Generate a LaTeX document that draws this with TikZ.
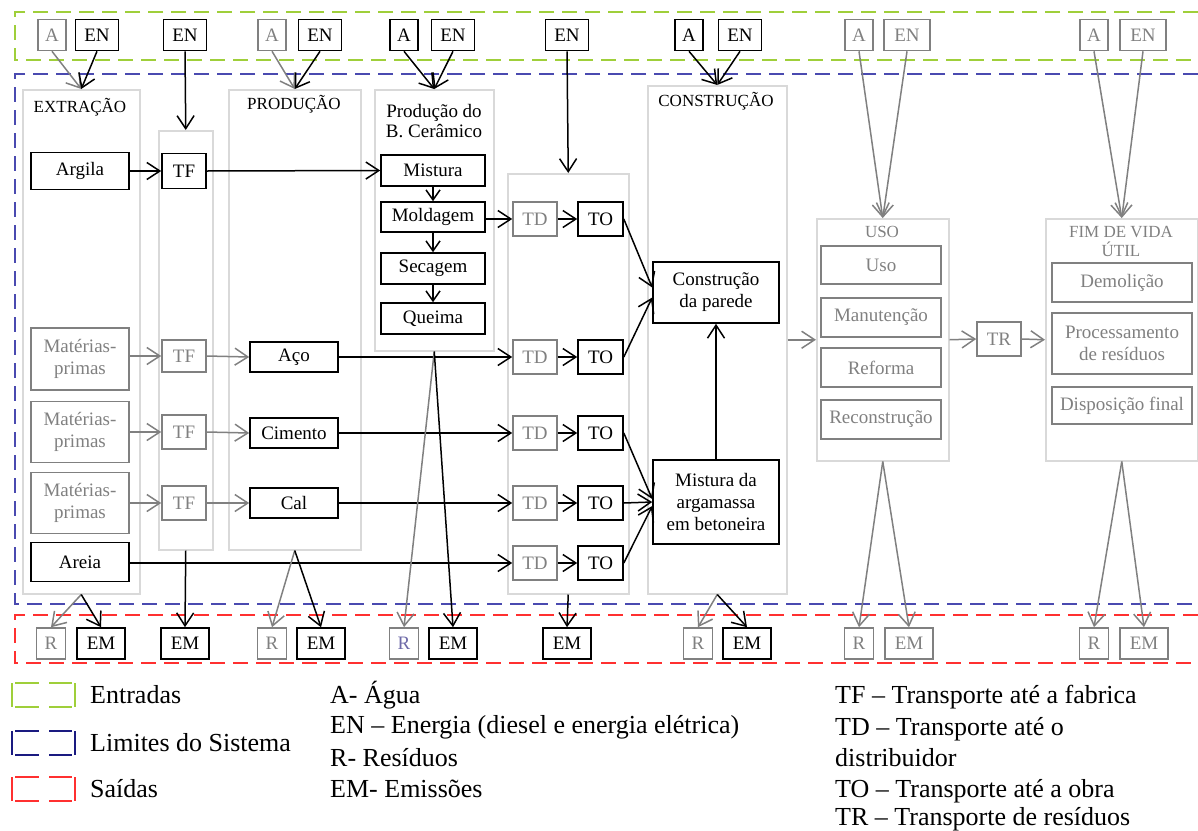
\documentclass[tikz,border=0pt]{standalone}
\usepackage{fontspec}
\setmainfont{LiberationSerif}[Extension=.ttf, UprightFont=*-Regular, BoldFont=*-Bold, ItalicFont=*-Italic, BoldItalicFont=*-BoldItalic]
\usetikzlibrary{arrows.meta,calc}
\definecolor{inGreen}{HTML}{9FCF3A}
\definecolor{sysBlue}{HTML}{4A4AB0}
\definecolor{legBlue}{HTML}{1A1A80}
\definecolor{outRed}{HTML}{FF3030}
\definecolor{boxGray}{HTML}{808080}
\definecolor{stageGray}{HTML}{D9D9D9}
\definecolor{resPurple}{HTML}{6E6AA8}

\begin{document}
\begin{tikzpicture}[x=1pt,y=-1pt,
  txt/.style={font=\fontsize{19}{22}\selectfont, inner sep=0pt, align=center},
  blk/.style={txt, draw=black, line width=1.6pt, text=black},
  gry/.style={txt, draw=boxGray, line width=1.6pt, text=boxGray},
  stage/.style={draw=stageGray, line width=1.5pt, inner sep=0pt, anchor=north west},
  title/.style={font=\fontsize{17}{19.5}\selectfont, align=center, inner sep=0pt},
  flow/.style={line width=1.5pt, -{Straight Barb[length=13pt,width=17pt]}},
  fb/.style={flow, draw=black},
  fg/.style={flow, draw=boxGray},
  fbs/.style={line width=1.5pt, draw=black, -{Straight Barb[length=10pt,width=14pt]}},
  frame/.style={line width=2.4pt, dash pattern=on 15pt off 8pt},
  lg/.style={font=\fontsize{26}{31}\selectfont, inner sep=0pt, anchor=base west},
  abox/.style={minimum width=28, minimum height=31},
  enbox/.style={minimum width=43, minimum height=31},
  rbox/.style={minimum width=29, minimum height=31},
  embox/.style={minimum width=48, minimum height=31},
  tbox/.style={minimum width=44, minimum height=34},
  legicon/.pic={
    \draw (0,0) -- (0,24) (63,0) -- (63,24)
          (3,0) -- (27,0) (37,0) -- (60,0)
          (3,24) -- (27,24) (37,24) -- (60,24);
  }
]
\useasboundingbox (0,0) rectangle (1198,830);

% dashed frames: inputs, system boundary, outputs
\draw[frame, inGreen] (1198,12) -- (15,12) -- (15,60) -- (1198,60);
\draw[frame, sysBlue, line width=2pt] (1198,74) -- (15,74) -- (15,604) -- (1198,604);
\draw[frame, outRed] (1198,615) -- (15,615) -- (15,663) -- (1198,663);

% life-cycle stages
\node[stage, minimum width=117, minimum height=504] (extr) at (22,89) {};
\node[stage, minimum width=54, minimum height=419] (tfcol) at (158,130) {};
\node[stage, minimum width=132, minimum height=460] (prod) at (228,89) {};
\node[stage, minimum width=119, minimum height=261] (bcer) at (374,89) {};
\node[stage, minimum width=121, minimum height=420] (tdcol) at (507,173) {};
\node[stage, minimum width=139, minimum height=508] (constr) at (647,85) {};
\node[stage, minimum width=132, minimum height=242] (uso) at (816,218) {};
\node[stage, minimum width=152, minimum height=242] (fim) at (1045,218) {};

\node[title] (tExtr) at (80,107) {EXTRAÇÃO};
\node[title] (tProd) at (294,104) {PRODUÇÃO};
\node[txt, font=\fontsize{19}{20}\selectfont] (tBcer) at (434,121) {Produção do\\B. Cerâmico};
\node[title] (tConstr) at (716,101) {CONSTRUÇÃO};
\node[title, text=boxGray] (tUso) at (882,232) {USO};
\node[title, text=boxGray, font=\fontsize{17}{19}\selectfont] (tFim) at (1121,241.5) {FIM DE VIDA\\ÚTIL};

% inputs
\node[gry, abox] (a1) at (52,35) {A};
\node[blk, enbox] (en1) at (97,35) {EN};
\node[blk, enbox] (en2) at (185,35) {EN};
\node[gry, abox] (a3) at (272,35) {A};
\node[blk, enbox] (en3) at (320,35) {EN};
\node[blk, abox] (a4) at (404,35) {A};
\node[blk, enbox] (en4) at (453,35) {EN};
\node[blk, enbox] (en5) at (567,35) {EN};
\node[blk, abox] (a6) at (689,35) {A};
\node[blk, enbox] (en6) at (740,35) {EN};
\node[gry, abox] (a7) at (859,35) {A};
\node[gry, enbox, minimum width=46] (en7) at (907,35) {EN};
\node[gry, abox] (a8) at (1094,35) {A};
\node[gry, enbox, minimum width=46] (en8) at (1143,35) {EN};

% extraction
\node[blk, minimum width=98, minimum height=37] (argila) at (80,171) {Argila};
\node[gry, minimum width=98, minimum height=62] (mp1) at (80,359) {Matérias-\\primas};
\node[gry, minimum width=98, minimum height=61] (mp2) at (80,432) {Matérias-\\primas};
\node[gry, minimum width=98, minimum height=61] (mp3) at (80,503) {Matérias-\\primas};
\node[blk, minimum width=98, minimum height=39] (areia) at (80,562) {Areia};

% transport to factory
\node[blk, tbox, minimum height=35] (tf1) at (184,171) {TF};
\node[gry, tbox, minimum height=32] (tf2) at (184,356) {TF};
\node[gry, tbox] (tf3) at (184,432) {TF};
\node[gry, tbox] (tf4) at (184,503) {TF};

% production
\node[blk, minimum width=88, minimum height=30] (aco) at (294,357) {Aço};
\node[blk, minimum width=88, minimum height=30] (cimento) at (294,433) {Cimento};
\node[blk, minimum width=88, minimum height=30] (cal) at (294,503) {Cal};

% ceramic block production
\node[blk, minimum width=104, minimum height=31] (mistura) at (433,170.5) {Mistura};
\node[blk, minimum width=104, minimum height=30] (moldagem) at (433,217) {Moldagem};
\node[blk, minimum width=104, minimum height=31] (secagem) at (433,268.5) {Secagem};
\node[blk, minimum width=104, minimum height=31] (queima) at (433,318.5) {Queima};

% distribution and transport to site
\foreach \i/\y in {1/219, 2/357, 3/433, 4/503, 5/563} {
  \node[gry, tbox] (td\i) at (535,\y) {TD};
  \node[blk, tbox, minimum width=45] (to\i) at (600.5,\y) {TO};
}

% construction
\node[blk, minimum width=126, minimum height=61] (parede) at (716,292.5) {Construção\\da parede};
\node[blk, minimum width=126, minimum height=84] (argamassa) at (716,502) {Mistura da\\argamassa\\em betoneira};

% use
\node[gry, minimum width=120, minimum height=38] (u1) at (881,265) {Uso};
\node[gry, minimum width=120, minimum height=39] (u2) at (881,317.5) {Manutenção};
\node[gry, minimum width=120, minimum height=39] (u3) at (881,367.5) {Reforma};
\node[gry, minimum width=120, minimum height=39] (u4) at (881,419.5) {Reconstrução};
\node[gry, tbox] (tr) at (999,339) {TR};

% end of life
\node[gry, minimum width=140, minimum height=39] (f1) at (1122,282.5) {Demolição};
\node[gry, minimum width=140, minimum height=61] (f2) at (1122,343.5) {Processamento\\de resíduos};
\node[gry, minimum width=140, minimum height=37] (f3) at (1122,405.5) {Disposição final};

% outputs
\node[gry, rbox] (r1) at (51,643.5) {R};
\node[blk, embox] (em1) at (101,643.5) {EM};
\node[blk, embox] (em2) at (185,643.5) {EM};
\node[gry, rbox] (r3) at (272,643.5) {R};
\node[blk, embox] (em3) at (321,643.5) {EM};
\node[gry, rbox, text=resPurple] (r4) at (404,643.5) {R};
\node[blk, embox] (em4) at (453,643.5) {EM};
\node[blk, embox] (em5) at (567,643.5) {EM};
\node[gry, rbox] (r6) at (698,643.5) {R};
\node[blk, embox] (em6) at (747,643.5) {EM};
\node[gry, rbox] (r7) at (859,643.5) {R};
\node[gry, embox] (em7) at (909,643.5) {EM};
\node[gry, rbox] (r8) at (1094,643.5) {R};
\node[gry, embox] (em8) at (1144,643.5) {EM};

% input flows
\draw[fg] (a1.south) -- (extr.north);
\draw[fb] (en1.south) -- (extr.north);
\draw[fb] (en2.south) -- (tfcol.north);
\draw[fg] (a3.south) -- (prod.north);
\draw[fb] (en3.south) -- (prod.north);
\draw[fb] (a4.south) -- (bcer.north);
\draw[fb] (en4.south) -- (bcer.north);
\draw[fb] (en5.south) -- (tdcol.north);
\draw[fb] (a6.south) -- (constr.north);
\draw[fb] (en6.south) -- (constr.north);
\draw[fg] (a7.south) -- (uso.north);
\draw[fg] (en7.south) -- (uso.north);
\draw[fg] (a8.south) -- (fim.north);
\draw[fg] (en8.south) -- (fim.north);

% material flows
\draw[fb] (argila.east) -- (tf1.west);
\draw[fb] (tf1.east) -- (mistura.west);
\draw[fbs] (mistura.south) -- (moldagem.north);
\draw[fbs] (moldagem.south) -- (secagem.north);
\draw[fbs] (secagem.south) -- (queima.north);
\draw[fb] (moldagem.east |- td1.west) -- (td1.west);
\draw[fg] (mp1.east |- tf2.west) -- (tf2.west);
\draw[fg] (tf2.east) -- (aco.west);
\draw[fg] (mp2.east) -- (tf3.west);
\draw[fg] (tf3.east) -- (cimento.west);
\draw[fg] (mp3.east) -- (tf4.west);
\draw[fg] (tf4.east) -- (cal.west);
\draw[fb] (aco.east) -- (td2.west);
\draw[fb] (cimento.east) -- (td3.west);
\draw[fb] (cal.east) -- (td4.west);
\draw[fb] (areia.east |- td5.west) -- (td5.west);
\foreach \i in {1,...,5} { \draw[fb] (td\i.east) -- (to\i.west); }
\draw[fb] (to1.east) -- ($(parede.west)+(0,-5)$);
\draw[fb] (to2.east) -- ($(parede.west)+(0,5)$);
\draw[fb] (to3.east) -- ($(argamassa.west)+(0,-3)$);
\draw[fb] (to4.east) -- (argamassa.west);
\draw[fb] (to5.east) -- ($(argamassa.west)+(0,4)$);
\draw[fb] (argamassa.north) -- (parede.south);
\draw[fg] (constr.east) -- (uso.west);
\draw[fg] (uso.east) -- (tr.west);
\draw[fg] (tr.east) -- (fim.west);

% output flows
\draw[fg] (extr.south) -- (r1.north);
\draw[fb] (extr.south) -- (em1.north);
\draw[fb] (tfcol.south) -- (em2.north);
\draw[fg] (prod.south) -- (r3.north);
\draw[fb] (prod.south) -- (em3.north);
\draw[fg] (bcer.south) -- (r4.north);
\draw[fb] (bcer.south) -- (em4.north);
\draw[fb] (tdcol.south) -- (em5.north);
\draw[fg] (constr.south) -- (r6.north);
\draw[fb] (constr.south) -- (em6.north);
\draw[fg] (uso.south) -- (r7.north);
\draw[fg] (uso.south) -- (em7.north);
\draw[fg] (fim.south) -- (r8.north);
\draw[fg] (fim.south) -- (em8.north);

% legend
\pic[color=inGreen, line width=2.4pt] at (12,683) {legicon};
\pic[color=legBlue, line width=2.4pt] at (12,731) {legicon};
\pic[color=outRed, line width=2.4pt] at (12,777) {legicon};
\node[lg] (lgIn) at (90,703) {Entradas};
\node[lg] (lgSys) at (90,751) {Limites do Sistema};
\node[lg] (lgOut) at (90,797) {Saídas};
\node[lg] (lgA) at (330,703) {A- Água};
\node[lg] (lgEN) at (330,733) {EN – Energia (diesel e energia elétrica)};
\node[lg] (lgR) at (330,766) {R- Resíduos};
\node[lg] (lgEM) at (330,797) {EM- Emissões};
\node[lg] (lgTF) at (835,703) {TF – Transporte até a fabrica};
\node[lg] (lgTD) at (835,735) {TD – Transporte até o};
\node[lg] (lgTDb) at (835,766) {distribuidor};
\node[lg] (lgTO) at (835,797) {TO – Transporte até a obra};
\node[lg] (lgTR) at (835,825) {TR – Transporte de resíduos};
\end{tikzpicture}
\end{document}
